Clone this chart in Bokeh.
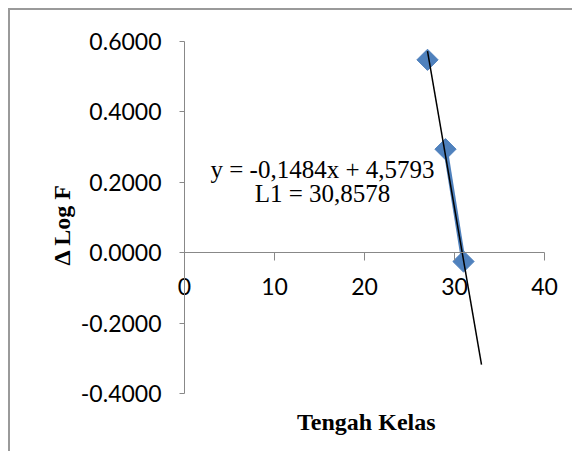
import math
from bokeh.plotting import figure
from bokeh.models import FixedTicker, Label, NumeralTickFormatter, Range1d
from bokeh.embed import file_html
from bokeh.resources import INLINE

# Data
tengah_kelas = [27, 29, 31]
delta_log_f = [0.548, 0.294, -0.025]

# Trendline given on the chart: y = -0,1484x + 4,5793 ; L1 = 30,8578
slope = -0.1484
intercept = 4.5793
trend_x = [27, 33]
trend_y = [slope * v + intercept for v in trend_x]

x_ticks = [0, 10, 20, 30, 40]
y_ticks = [-0.4, -0.2, 0.0, 0.2, 0.4, 0.6]

BLUE = "#4F81BD"
AXIS = "#888888"
TICK_FONT = "Lato"
SERIF = "Liberation Serif"

# canvas geometry (frame fills the canvas; axes sit inside it)
W, H = 564, 443
X0_PX, PX_PER_X = 174, 9.0       # canvas px of x = 0, px per x unit
YTOP_PX, PX_PER_Y = 31, 352.0    # canvas px of y = 0.6, px per y unit
x_range = Range1d(-X0_PX / PX_PER_X, (W - X0_PX) / PX_PER_X)
y_range = Range1d(0.6 - (H - YTOP_PX) / PX_PER_Y, 0.6 + YTOP_PX / PX_PER_Y)

p = figure(width=W, height=H, x_range=x_range, y_range=y_range,
           output_backend="svg", toolbar_location=None,
           min_border=0, min_border_left=0, min_border_right=0,
           min_border_top=0, min_border_bottom=0)
p.styles = {"margin-left": "8px", "margin-top": "8px",
            "border-top": "2px solid #9a9a9a", "border-left": "2px solid #9a9a9a"}
p.outline_line_color = None
p.grid.visible = False
p.background_fill_color = "white"
p.border_fill_color = "white"

# x axis crossing at y = 0
xa = p.xaxis[0]
xa.fixed_location = 0
xa.bounds = (x_ticks[0], x_ticks[-1])
xa.ticker = FixedTicker(ticks=x_ticks)
xa.minor_tick_line_color = None
xa.axis_line_color = AXIS
xa.major_tick_line_color = AXIS
xa.major_tick_in = 0
xa.major_tick_out = 8
xa.major_label_standoff = 17
xa.major_label_text_font = TICK_FONT
xa.major_label_text_font_size = "23px"
xa.major_label_text_color = "black"

# y axis at x = 0
ya = p.yaxis[0]
ya.fixed_location = 0
ya.bounds = (y_ticks[0], y_ticks[-1])
ya.ticker = FixedTicker(ticks=y_ticks)
ya.formatter = NumeralTickFormatter(format="0.0000")
ya.minor_tick_line_color = None
ya.axis_line_color = AXIS
ya.major_tick_line_color = AXIS
ya.major_tick_in = 0
ya.major_tick_out = 5
ya.major_label_standoff = 18
ya.major_label_text_font = TICK_FONT
ya.major_label_text_font_size = "23px"
ya.major_label_text_color = "black"

# series line (drawn only between the last two points, as in the reference)
p.line(tengah_kelas[1:], delta_log_f[1:], line_color=BLUE, line_width=4.5)
p.scatter(tengah_kelas, delta_log_f, marker="square", angle=math.pi / 4, size=15,
          fill_color=BLUE, line_color=BLUE)
p.line(trend_x, trend_y, line_color="black", line_width=1.5)

p.add_layout(Label(x=15.33, y=0.236, text="y = -0,1484x + 4,5793", text_align="center",
                   text_baseline="alphabetic", text_font=SERIF, text_font_size="25px",
                   text_color="black"))
p.add_layout(Label(x=15.33, y=0.168, text="L1 = 30,8578", text_align="center",
                   text_baseline="alphabetic", text_font=SERIF, text_font_size="25px",
                   text_color="black"))

# axis titles
p.add_layout(Label(x=20.2, y=-0.482, text="Tengah Kelas", text_align="center",
                   text_baseline="alphabetic", text_font=SERIF, text_font_style="bold",
                   text_font_size="24px", text_color="black"))
p.add_layout(Label(x=-13.56, y=0.08, text="\u0394 Log F", angle=math.pi / 2,
                   text_align="center", text_baseline="middle", text_font=SERIF,
                   text_font_style="bold", text_font_size="24px", text_color="black"))

open("out.html", "w").write(file_html(p, INLINE))
